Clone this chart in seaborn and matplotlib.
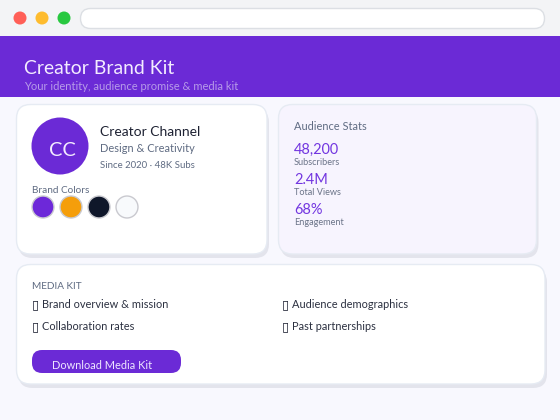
import matplotlib
matplotlib.use("Agg")
import matplotlib.pyplot as plt
from matplotlib.patches import FancyBboxPatch, Circle, Rectangle
import pandas as pd
import seaborn as sns

# Content
title = "Creator Brand Kit"
subtitle = "Your identity, audience promise & media kit"
initials = "CC"
channel = "Creator Channel"
niche = "Design & Creativity"
since = "Since 2020 · 48K Subs"
colors_label = "Brand Colors"
brand_colors = ["#6d28d9", "#f59e0b", "#0f172a", "#f8fafc"]
stats_title = "Audience Stats"
stat_values = ["48,200", "2.4M", "68%"]
stat_labels = ["Subscribers", "Total Views", "Engagement"]
kit_title = "MEDIA KIT"
kit_left = ["Brand overview & mission", "Collaboration rates"]
kit_right = ["Audience demographics", "Past partnerships"]
button = "Download Media Kit"

FONT = "Lato"
PURPLE = "#6b2ad6"
sns.set_theme(style="white")
plt.rcParams["font.family"] = [FONT, "DejaVu Sans"]

fig = plt.figure(figsize=(5.6, 4.2), dpi=100, facecolor="#f8f8fe")
ax = fig.add_axes([0, 0, 1, 1])
ax.set_xlim(0, 560)
ax.set_ylim(420, 0)
ax.axis("off")


def T(x, y, s, px, color, **kw):
    ax.text(x, y, s, fontsize=px * 0.72, color=color, va="baseline", **kw)


def round_box(x0, y0, x1, y1, r, fc, ec="none", lw=0, z=2):
    ax.add_patch(FancyBboxPatch((x0 + r, y0 + r), x1 - x0 - 2 * r, y1 - y0 - 2 * r,
                                boxstyle=f"round,pad={r},rounding_size={r}",
                                fc=fc, ec=ec, lw=lw, zorder=z))


def card(x0, y0, x1, y1, fc):
    round_box(x0 + 2, y0 + 4, x1 + 2, y1 + 4, 14, "#e3e4ec", z=1)
    round_box(x0, y0, x1, y1, 14, fc, "#e6ebf3", 1, z=2)


# Browser chrome
ax.add_patch(Rectangle((0, 0), 560, 36, fc="#f3f4f6", ec="none"))
for x, c in zip([20, 42, 64], ["#ff5f57", "#febc2e", "#28c840"]):
    ax.add_patch(Circle((x, 18), 6.5, fc=c, ec="none"))
round_box(80.5, 8.5, 544.5, 28.5, 10, "white", "#dcdfe4", 1)

# Header
ax.add_patch(Rectangle((0, 36), 560, 61, fc=PURPLE, ec="none"))
T(24, 74, title, 19.4, "#f3ecff")
T(24, 90, subtitle, 11.1, "#b79be9")

# Cards
card(16.5, 104.5, 267, 254, "white")
card(278.5, 104.5, 536.5, 254, "#f7f4fe")
card(16.5, 264.5, 545, 384, "white")

# Profile card
ax.add_patch(Circle((60, 146), 28.5, fc=PURPLE, ec="none", zorder=3))
ax.text(62, 150, initials, fontsize=20 * 0.72, color="#f3ecff", ha="center", va="center", zorder=4)
T(100, 136, channel, 13.9, "#1e2233", zorder=4)
T(100, 152, niche, 11, "#5f6b82", zorder=4)
T(100, 168, since, 9.6, "#5f6b82", zorder=4)
T(32, 193, colors_label, 10, "#5f6b82", zorder=4)

swatches = pd.DataFrame({"x": [43, 71, 99, 127], "y": [207] * 4, "color": brand_colors})
sns.scatterplot(data=swatches, x="x", y="y", hue="color", palette=brand_colors, s=250,
                edgecolor="#c9c9cf", linewidth=1, legend=False, ax=ax, zorder=4)
ax.set_xlim(0, 560)
ax.set_ylim(420, 0)
ax.axis("off")

# Audience card
T(294, 130, stats_title, 11, "#5f6b82", zorder=4)
for y, v, l in zip([154, 184, 214], stat_values, stat_labels):
    T(294, y, v, 14.5, "#7235e0", zorder=4)
    T(294, y + 11, l, 9.2, "#6b7488", zorder=4)

# Media kit card
T(32, 289, kit_title, 10, "#5f6b82", zorder=4)
for y, a, b in zip([308, 330], kit_left, kit_right):
    T(31.5, y, "\u25af", 13, "#1e2233", family="DejaVu Sans", zorder=4)
    T(42, y, a, 11, "#2b3040", zorder=4)
    T(281.5, y, "\u25af", 13, "#1e2233", family="DejaVu Sans", zorder=4)
    T(292, y, b, 11, "#2b3040", zorder=4)

round_box(32, 350, 181, 373, 10, PURPLE, z=3)
T(52, 369, button, 11, "#eee6ff", zorder=4)

fig.savefig("out.png", dpi=100, facecolor=fig.get_facecolor())
